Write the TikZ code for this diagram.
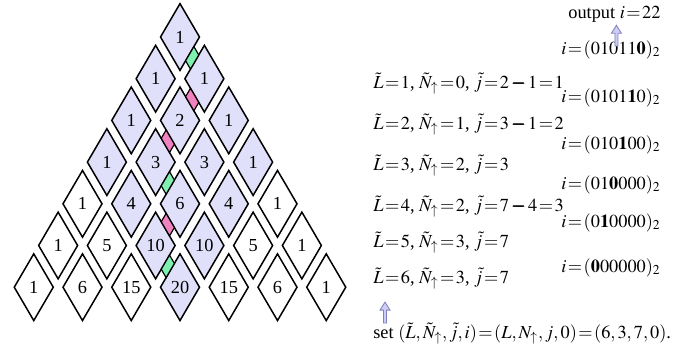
\documentclass[tikz,border=0pt]{standalone}
\usepackage{mathptmx}
\usepackage{bm}
\usepackage{fontspec}
\setmainfont{Liberation Serif}
\usetikzlibrary{calc}
\definecolor{cellfill}{RGB}{224,224,250}
\definecolor{upstep}{RGB}{128,240,176}
\definecolor{downstep}{RGB}{240,130,192}
\definecolor{arrowfill}{RGB}{206,206,244}
\definecolor{arrowedge}{RGB}{128,128,190}
\thickmuskip=1.5mu plus 1mu
\medmuskip=2mu
\tikzset{
  cell/.style={draw=black,line width=0.9pt},
  gap/.style={draw=black,line width=0.7pt},
  hollow/.style={draw=arrowedge,fill=arrowfill,line width=0.5pt},
  txt/.style={anchor=base west,inner sep=0pt}
}
\newcommand\hollowup[2]{%
  \draw[hollow] ($(#1)+(-1.5,0)$) -- ($(#2)+(-1.5,8)$) -- ($(#2)+(-5,8)$) -- (#2)
    -- ($(#2)+(5,8)$) -- ($(#2)+(1.5,8)$) -- ($(#1)+(1.5,0)$) -- cycle;}
\begin{document}
\begin{tikzpicture}[x=0.6pt,y=-0.6pt,font=\fontsize{11}{13}\selectfont]
\useasboundingbox (0,0) rectangle (698,345);

% Pascal triangle, a = r-k down-left, b = k down-right
\begin{scope}[shift={(180,37)},x={(-14.625pt,-25.02pt)},y={(14.625pt,-25.02pt)}]
\foreach \r/\row in {0/{1},1/{1,1},2/{1,2,1},3/{1,3,3,1},4/{1,4,6,4,1},
                     5/{1,5,10,10,5,1},6/{1,6,15,20,15,6,1}}{
  \foreach \v [count=\k from 0] in \row {
    \pgfmathtruncatemacro\a{\r-\k}
    \pgfmathtruncatemacro\shade{(\a<4 && \k<4) ? 1 : 0}
    \ifnum\shade=1 \def\fillc{cellfill}\else\def\fillc{white}\fi
    \filldraw[cell,fill=\fillc] (\a-.4,\k-.4) -- (\a+.4,\k-.4) -- (\a+.4,\k+.4)
      -- (\a-.4,\k+.4) -- cycle;
    \node (c-\r-\k) at (\a,\k) {\v};
  }
}
% steps of the path
\foreach \a/\b in {0/0,2/1,3/2}
  \filldraw[gap,fill=upstep] (\a-.17,\b+.4) -- (\a+.17,\b+.4) -- (\a+.17,\b+.6)
    -- (\a-.17,\b+.6) -- cycle;
\foreach \a/\b in {0/1,1/1,2/2}
  \filldraw[gap,fill=downstep] (\a+.4,\b-.17) -- (\a+.6,\b-.17) -- (\a+.6,\b+.17)
    -- (\a+.4,\b+.17) -- cycle;
\end{scope}

% left column
\node[txt] (l1) at (373,88) {$\tilde{L}=1$, $\tilde{N}_{\uparrow}=0$, $\tilde{j}=2\bm{-}1=1$};
\node[txt] (l2) at (373,129) {$\tilde{L}=2$, $\tilde{N}_{\uparrow}=1$, $\tilde{j}=3\bm{-}1=2$};
\node[txt] (l3) at (373,170) {$\tilde{L}=3$, $\tilde{N}_{\uparrow}=2$, $\tilde{j}=3$};
\node[txt] (l4) at (373,211) {$\tilde{L}=4$, $\tilde{N}_{\uparrow}=2$, $\tilde{j}=7\bm{-}4=3$};
\node[txt] (l5) at (373,247) {$\tilde{L}=5$, $\tilde{N}_{\uparrow}=3$, $\tilde{j}=7$};
\node[txt] (l6) at (373,283) {$\tilde{L}=6$, $\tilde{N}_{\uparrow}=3$, $\tilde{j}=7$};
\node[txt] (set) at (373,338) {set $(\tilde{L},\tilde{N}_{\uparrow},\tilde{j},i)=(L,N_{\uparrow},j,0)=(6,3,7,0)$.};

% right column
\node[txt] (out) at (568,18) {output $i=22$};
\node[txt] (b1) at (561,54) {$i=(01011\mathbf{0})_2$};
\node[txt] (b2) at (561,102) {$i=(0101\mathbf{1}0)_2$};
\node[txt] (b3) at (561,149) {$i=(010\mathbf{1}00)_2$};
\node[txt] (b4) at (561,189) {$i=(01\mathbf{0}000)_2$};
\node[txt] (b5) at (561,227) {$i=(0\mathbf{1}0000)_2$};
\node[txt] (b6) at (561,272) {$i=(\mathbf{0}00000)_2$};

\coordinate (outfoot) at ($(out.south)+(2,3)$);
\coordinate (b1head) at ($(b1.base -| outfoot)+(0,-8)$);
\hollowup{b1head}{outfoot}
\coordinate (l6foot) at ($(l6.south west)+(12,13)$);
\coordinate (sethead) at ($(set.base -| l6foot)+(0,-15)$);
\hollowup{sethead}{l6foot}
\end{tikzpicture}
\end{document}
